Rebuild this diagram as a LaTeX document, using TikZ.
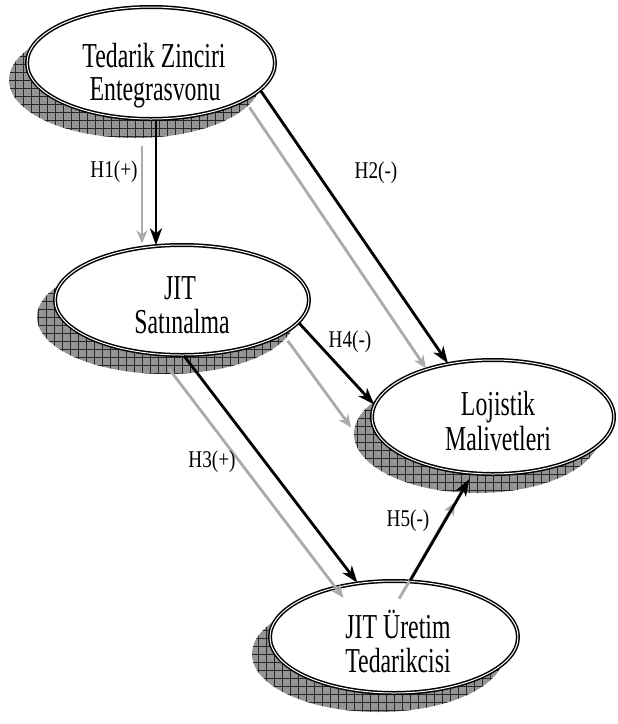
\documentclass[tikz,border=0pt]{standalone}
\usepackage{fontspec}
\setmainfont{Liberation Serif}
\newfontfamily\elfont[FakeStretch=0.68]{Liberation Serif}
\newfontfamily\lblfont[FakeStretch=0.80]{Liberation Serif}
\usetikzlibrary{calc,shapes.geometric,arrows.meta}
\begin{document}
\begin{tikzpicture}[x=1pt,y=-1pt,
  shadowshape/.style={ellipse,inner sep=0pt,fill=black!42,
    path picture={\draw[black!85,line width=0.6pt,step=8pt]
      (path picture bounding box.south west) grid (path picture bounding box.north east);}},
  elshape/.style={ellipse,inner sep=0pt,fill=white,draw=black,double=white,
    line width=1.5pt,double distance=1.0pt},
  eltext/.style={anchor=base,inner sep=0pt,font=\elfont\fontsize{35}{33}\selectfont},
  lbl/.style={inner sep=0pt,font=\lblfont\fontsize{24}{26}\selectfont},
  blackarr/.style={draw=black,line width=2.8pt,-{Stealth[length=17pt,width=12pt,inset=5pt]}},
  grayarr/.style={draw=black!33,line width=2.8pt,-{Stealth[length=13pt,width=11pt,inset=4pt]}}
]
\useasboundingbox[fill=white] (0,0) rectangle (618,724);
% centres
\coordinate (c1) at (151,63);
\coordinate (c2) at (182,300);
\coordinate (c3) at (493,417);
\coordinate (c4) at (394,637);
% shadows
\node[shadowshape,minimum width=252pt,minimum height=116pt] (s1) at ($(c1)+(-16,17)$) {};
\node[shadowshape,minimum width=258pt,minimum height=114pt] (s2) at ($(c2)+(-16,17)$) {};
\node[shadowshape,minimum width=246pt,minimum height=118pt] (s3) at ($(c3)+(-16,17)$) {};
\node[shadowshape,minimum width=252pt,minimum height=116pt] (s4) at ($(c4)+(-16,17)$) {};
% ellipses
\node[elshape,minimum width=248pt,minimum height=112pt] (e1) at (c1) {};
\node[elshape,minimum width=254pt,minimum height=110pt] (e2) at (c2) {};
\node[elshape,minimum width=242pt,minimum height=114pt] (e3) at (c3) {};
\node[elshape,minimum width=248pt,minimum height=112pt] (e4) at (c4) {};
% texts
\node[eltext] (t1a) at ($(c1)+(3,4)$) {Tedarik Zinciri};
\node[eltext] (t1b) at ($(c1)+(4,37)$) {Entegrasvonu};
\node[eltext] (t2a) at ($(c2)+(-2,-1)$) {JIT};
\node[eltext] (t2b) at ($(c2)+(0,33)$) {Satınalma};
\node[eltext] (t3a) at ($(c3)+(5,-2)$) {Lojistik};
\node[eltext] (t3b) at ($(c3)+(5,33)$) {Malivetleri};
\node[eltext] (t4a) at ($(c4)+(4,1)$) {JIT Üretim};
\node[eltext] (t4b) at ($(c4)+(4,35)$) {Tedarikcisi};
% anchors
\coordinate (h1end) at (e1.-85 |- e2.115);
% gray arrows
\draw[grayarr] ($(e1.-85)+(-14,26)$) -- ($(h1end)+(-14,-2)$);
\draw[grayarr] ($(e1.-14)+(-11,17)$) -- ($(e3.130)+(-22,5)$);
\draw[grayarr] ($(e2.-88)+(-15,13)$) -- ($(e4.124)+(-14,15)$);
\draw[grayarr] ($(e2.-11)+(-11,18)$) -- ($(e3.174)+(-23,23)$);
\draw[grayarr] ($(e4.74)+(-11,18)$) -- ($(e3.250)+(-17,28)$);
% black arrows
\draw[blackarr] (e1.-85) -- (h1end);
\draw[blackarr] (e1.-14) -- (e3.130);
\draw[blackarr] (e2.-88) -- (e4.124);
\draw[blackarr] (e2.-11) -- (e3.174);
\draw[blackarr,shorten >=6pt] (e4.74) -- (e3.250);
% labels
\node[lbl] (l1) at (114,172) {H1(+)};
\node[lbl] (l2) at (376,173) {H2(-)};
\node[lbl] (l4) at (350,342) {H4(-)};
\node[lbl] (l3) at (212,462) {H3(+)};
\node[lbl] (l5) at (408,521) {H5(-)};
\end{tikzpicture}
\end{document}
